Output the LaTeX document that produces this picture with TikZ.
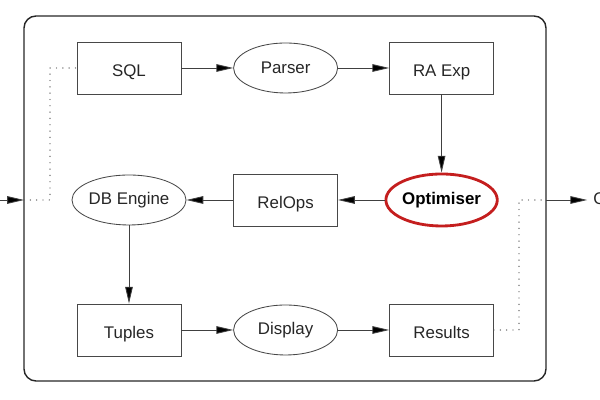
\documentclass[tikz,border=0pt]{standalone}
\usepackage{fontspec}
\setmainfont{Liberation Sans}
\usetikzlibrary{shapes.geometric,arrows.meta}
\definecolor{edgegray}{HTML}{484848}
\definecolor{optred}{HTML}{C41E1E}

\begin{document}
\begin{tikzpicture}[
    font=\fontsize{12}{14}\selectfont, text=black!85,
    box/.style={draw=edgegray, line width=0.6pt, minimum width=2.6cm, minimum height=1.3cm, inner sep=0pt, text height=12pt, text depth=0pt},
    oval/.style={ellipse, draw=edgegray, line width=0.6pt, minimum width=2.6cm, minimum height=1.25cm, inner sep=0pt},
    flow/.style={draw=black!75, line width=0.6pt, -{Triangle[length=4.2mm,width=1.9mm,fill=black]}},
    feed/.style={draw=black!65, line width=1pt, line cap=round, dash pattern=on 0pt off 4.5pt}]
        \useasboundingbox (0,0) rectangle (15,10);
        \draw[rounded corners=0.3cm, line width=1pt, draw=black!85] (0.6,0.475) rectangle (13.65,9.6);
        %%
        \node[box] (sql) at (3.225,8.3) {SQL};
        \node[oval] (parser) at (7.14,8.3) {Parser};
        \node[box] (raexp) at (11.04,8.3) {RA Exp};
        %%
        \node[oval] (dbengine) at (3.225,5.0) {DB Engine};
        \node[box] (relops) at (7.14,5.0) {RelOps};
        \node[oval, draw=optred, line width=2pt, minimum height=1.3cm, font=\fontsize{12}{14}\selectfont\bfseries, text=black] (optimiser) at (11.04,5.0) {Optimiser};
        %%
        \node[box] (tuples) at (3.225,1.75) {Tuples};
        \node[oval] (display) at (7.14,1.75) {Display};
        \node[box] (results) at (11.04,1.75) {Results};
        %%
        \node[anchor=west, inner sep=0.15cm] (output) at (14.68,5.0) {Output};
        \coordinate (srcL) at (0,5.0);
        \coordinate (inL) at (0.6,5.0);
        \coordinate (bendL) at (1.25,5.0);
        \coordinate (bendR) at (12.975,5.0);
        \coordinate (outR) at (13.65,5.0);
        %%
        \draw[flow] (sql) -- (parser);
        \draw[flow] (parser) -- (raexp);
        \draw[flow] (raexp) -- (optimiser);
        \draw[flow] (optimiser) -- (relops);
        \draw[flow] (relops) -- (dbengine);
        \draw[flow] (dbengine) -- (tuples);
        \draw[flow] (tuples) -- (display);
        \draw[flow] (display) -- (results);
        %%
        \draw[flow] (srcL) -- (inL);
        \draw[feed] (inL) -- (bendL) |- (sql.west);
        \draw[feed] (results.east) -| (bendR) -- (outR);
        \draw[flow] (outR) -- (output.west);
      \end{tikzpicture}
\end{document}
